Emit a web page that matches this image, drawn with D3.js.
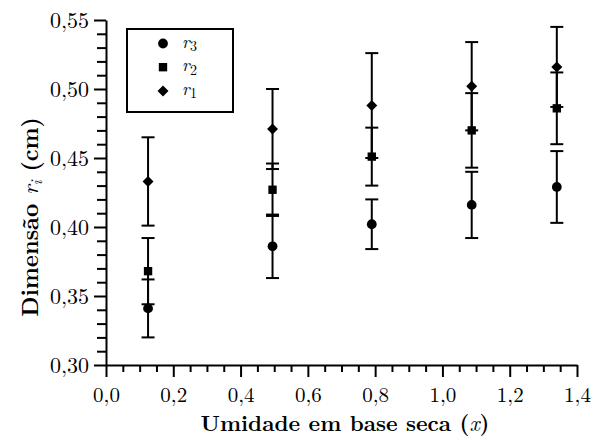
<!DOCTYPE html>
<html>
<head>
<meta charset="utf-8">
<script src="https://cdn.jsdelivr.net/npm/d3@7"></script>
<style>
  html, body { margin: 0; padding: 0; background: #fff; }
  svg { display: block; }
</style>
</head>
<body>
<svg id="chart" width="593" height="439"></svg>
<script>
// ---- data ----
const xValues = [0.125, 0.495, 0.79, 1.087, 1.34];
const r3Values = [0.341, 0.386, 0.402, 0.416, 0.429];
const r3Errors = [0.021, 0.023, 0.018, 0.024, 0.026];
const r2Values = [0.368, 0.427, 0.451, 0.470, 0.486];
const r2Errors = [0.024, 0.019, 0.021, 0.027, 0.026];
const r1Values = [0.433, 0.471, 0.488, 0.502, 0.516];
const r1Errors = [0.032, 0.029, 0.038, 0.032, 0.029];
const xTickValues = [0.0, 0.2, 0.4, 0.6, 0.8, 1.0, 1.2, 1.4];
const yTickValues = [0.30, 0.35, 0.40, 0.45, 0.50, 0.55];
const seriesNames = ["3", "2", "1"];

const FONT = "Latin Modern Roman, Liberation Serif, serif";
const svg = d3.select("#chart");
const x = d3.scaleLinear().domain([0, 1.4]).range([106, 577]);
const y = d3.scaleLinear().domain([0.30, 0.55]).range([365, 20]);
const fmtX = d => d.toFixed(1).replace(".", ",");
const fmtY = d => d.toFixed(2).replace(".", ",");

// minor ticks
const xMinor = d3.range(0, 29).map(i => i * 0.05).filter(v => Math.abs(v / 0.2 - Math.round(v / 0.2)) > 1e-6);
const yMinor = d3.range(0, 26).map(i => 0.30 + i * 0.01).filter(v => Math.abs(v / 0.05 - Math.round(v / 0.05)) > 1e-6);

// X axis
const gx = svg.append("g").attr("transform", `translate(0,${y(0.30)})`);
gx.call(d3.axisBottom(x).tickValues(xTickValues).tickFormat(fmtX).tickSize(12).tickPadding(10).tickSizeOuter(0));
gx.append("g").call(d3.axisBottom(x).tickValues(xMinor).tickSize(7).tickFormat(""))
  .select(".domain").remove();
// Y axis
const gy = svg.append("g").attr("transform", `translate(${x(0)},0)`);
gy.call(d3.axisLeft(y).tickValues(yTickValues).tickFormat(fmtY).tickSize(12).tickPadding(5).tickSizeOuter(0));
gy.append("g").call(d3.axisLeft(y).tickValues(yMinor).tickSize(9).tickFormat(""))
  .select(".domain").remove();

svg.selectAll(".domain").attr("stroke", "#000").attr("stroke-width", 2);
svg.selectAll(".tick line").attr("stroke", "#000").attr("stroke-width", 2);
gy.selectAll(".tick text").attr("font-size", 22).attr("font-family", FONT).attr("fill", "#000");
gx.selectAll(".tick text").attr("font-size", 21).attr("font-family", FONT).attr("fill", "#000");

// series
const diamond = { draw(ctx, size) { const r = Math.sqrt(size / 2); ctx.moveTo(0, -r); ctx.lineTo(r, 0); ctx.lineTo(0, r); ctx.lineTo(-r, 0); ctx.closePath(); } };
const series = [
  { vals: r3Values, errs: r3Errors, shape: d3.symbolCircle, size: 75 },
  { vals: r2Values, errs: r2Errors, shape: d3.symbolSquare, size: 70 },
  { vals: r1Values, errs: r1Errors, shape: diamond, size: 60 }
];
const capHalf = 6.5;
series.forEach(s => {
  const g = svg.append("g");
  xValues.forEach((xv, i) => {
    const v = s.vals[i], e = s.errs[i];
    g.append("line").attr("x1", x(xv)).attr("x2", x(xv)).attr("y1", y(v - e)).attr("y2", y(v + e))
      .attr("stroke", "#000").attr("stroke-width", 2);
    [v - e, v + e].forEach(c => {
      g.append("line").attr("x1", x(xv) - capHalf).attr("x2", x(xv) + capHalf)
        .attr("y1", y(c)).attr("y2", y(c)).attr("stroke", "#000").attr("stroke-width", 2);
    });
  });
});
series.forEach(s => {
  svg.append("g").selectAll("path").data(xValues).join("path")
    .attr("transform", (d, i) => `translate(${x(d)},${y(s.vals[i])})`)
    .attr("d", d3.symbol().type(s.shape).size(s.size))
    .attr("fill", "#000");
});

// legend
const leg = svg.append("g");
leg.append("rect").attr("x", 127).attr("y", 29).attr("width", 106).attr("height", 83)
  .attr("fill", "#fff").attr("stroke", "#000").attr("stroke-width", 2);
const rowGap = 23.7;
// choose a font size whose text box fits the row spacing
let legSize = 21;
const probe = leg.append("text").attr("font-family", FONT).attr("font-style", "italic").attr("font-size", legSize).text("r");
while (legSize > 18 && probe.node().getBBox().height > rowGap - 0.5) {
  legSize -= 0.5;
  probe.attr("font-size", legSize);
}
probe.remove();
series.forEach((s, i) => {
  const cy = 43.5 + i * rowGap;
  leg.append("path").attr("transform", `translate(163,${cy})`)
    .attr("d", d3.symbol().type(s.shape).size(s.size)).attr("fill", "#000");
  const t = leg.append("text").attr("x", 182).attr("y", cy + 4).attr("font-size", legSize)
    .attr("font-family", FONT).attr("font-style", "italic").text("r");
  const w = t.node().getComputedTextLength();
  leg.append("text").attr("x", 182 + w + 0.5).attr("y", cy + 7.5).attr("font-size", 14)
    .attr("font-family", FONT).text(seriesNames[i]);
});

// axis titles
const xt = svg.append("text").attr("x", 345).attr("y", 431).attr("text-anchor", "middle")
  .attr("font-size", 22).attr("font-weight", "bold").attr("font-family", FONT);
xt.append("tspan").text("Umidade em base seca (");
xt.append("tspan").attr("font-style", "italic").attr("font-weight", "normal").text("x");
xt.append("tspan").text(")");

const yt = svg.append("text").attr("transform", "translate(38,217) rotate(-90)").attr("text-anchor", "middle")
  .attr("font-size", 23).attr("font-weight", "bold").attr("font-family", FONT);
yt.append("tspan").text("Dimensão ");
yt.append("tspan").attr("font-style", "italic").attr("font-weight", "normal").text("r");
yt.append("tspan").attr("font-style", "italic").attr("font-weight", "normal").attr("font-size", 16).attr("dy", 4).text("i");
yt.append("tspan").attr("dy", -4).text(" (cm)");
</script>
</body>
</html>
